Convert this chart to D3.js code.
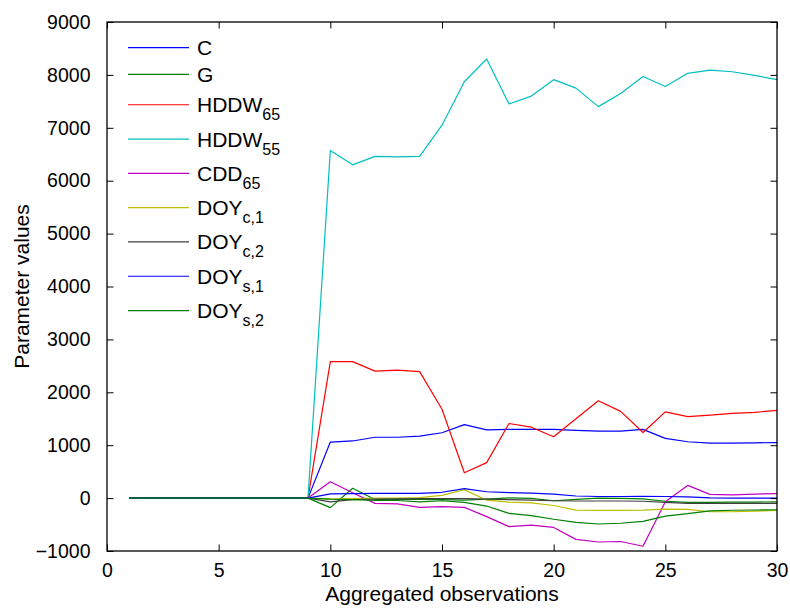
<!DOCTYPE html>
<html>
<head>
<meta charset="utf-8">
<script src="https://cdn.jsdelivr.net/npm/d3@7"></script>
<style>
  html, body { margin: 0; padding: 0; background: #fff; }
  svg { display: block; font-family: "Liberation Sans", Arial, Helvetica, sans-serif; }
</style>
</head>
<body>
<script>
// ---------------- DATA ----------------
const observations = d3.range(1, 31);
const xTicks = [0, 5, 10, 15, 20, 25, 30];
const yTicks = [-1000, 0, 1000, 2000, 3000, 4000, 5000, 6000, 7000, 8000, 9000];

const seriesNames = ["C", "G", "HDDW", "HDDW", "CDD", "DOY", "DOY", "DOY", "DOY"];
const seriesSubs  = ["", "", "65", "55", "65", "c,1", "c,2", "s,1", "s,2"];
const seriesColors = ["#0000ff", "#008000", "#ff0000", "#00bfbf", "#bf00bf", "#bfbf00", "#404040", "#0000ff", "#008000"];

const C      = [0,0,0,0,0,0,0,0,0, 1060,1080,1150,1150,1170,1235,1390,1290,1300,1300,1300,1280,1265,1265,1300,1130,1065,1040,1040,1045,1050];
const G      = [0,0,0,0,0,0,0,0,0, -180,185,-25,-20,-25,-30,-38,-20,5,-5,-50,-25,0,-5,-13,-60,-80,-80,-75,-75,-70];
const HDDW65 = [0,0,0,0,0,0,0,0,0, 2580,2580,2400,2420,2390,1680,480,670,1410,1340,1160,1500,1840,1640,1240,1630,1540,1570,1600,1620,1660];
const HDDW55 = [0,0,0,0,0,0,0,0,0, 6570,6300,6460,6450,6460,7050,7870,8300,7450,7600,7910,7750,7400,7650,7970,7780,8030,8090,8060,7990,7910];
const CDD65  = [0,0,0,0,0,0,0,0,0, 310,100,-100,-110,-175,-160,-175,-350,-540,-510,-555,-780,-830,-820,-910,-70,240,70,60,75,85];
const DOYc1  = [0,0,0,0,0,0,0,0,0, -20,-10,0,0,10,50,160,-40,-75,-90,-140,-227,-233,-233,-227,-208,-214,-258,-258,-246,-233];
const DOYc2  = [0,0,0,0,0,0,0,0,0, -70,-30,-20,-15,-10,-10,-10,-20,-30,-40,-50,-55,-55,-55,-60,-80,-100,-100,-100,-100,-100];
const DOYs1  = [0,0,0,0,0,0,0,0,0, 80,85,90,90,90,110,180,120,105,95,75,40,30,30,35,30,25,5,0,0,0];
const DOYs2  = [0,0,0,0,0,0,0,0,0, -20,-30,-45,-45,-70,-50,-80,-150,-290,-330,-400,-460,-490,-475,-440,-340,-295,-240,-230,-225,-220];

const seriesValues = [C, G, HDDW65, HDDW55, CDD65, DOYc1, DOYc2, DOYs1, DOYs2];

// ---------------- LAYOUT ----------------
const W = 790, H = 608;
const margin = { left: 107, top: 22, right: 13, bottom: 57 };
const pw = W - margin.left - margin.right;
const ph = H - margin.top - margin.bottom;

const svg = d3.select("body").append("svg").attr("width", W).attr("height", H);
const g = svg.append("g").attr("transform", `translate(${margin.left},${margin.top})`);

const x = d3.scaleLinear().domain([0, 30]).range([0, pw]);
const y = d3.scaleLinear().domain([-1000, 9000]).range([ph, 0]);

// lines
const line = d3.line().x((d, i) => x(observations[i])).y(d => y(d));
seriesValues.forEach((vals, k) => {
  g.append("path")
    .datum(vals)
    .attr("fill", "none")
    .attr("stroke", seriesColors[k])
    .attr("stroke-width", 1.2)
    .attr("stroke-linejoin", "round")
    .attr("d", line);
});

// axes (ticks inward, on all sides)
const tl = 6.5;
const fs = 19.5;
const fsTitle = 21;
const xAxisB = d3.axisBottom(x).tickValues(xTicks).tickSizeInner(-tl).tickSizeOuter(0).tickPadding(tl + 6);
const xAxisT = d3.axisTop(x).tickValues(xTicks).tickSizeInner(-tl).tickSizeOuter(0).tickFormat("");
const yAxisL = d3.axisLeft(y).tickValues(yTicks).tickSizeInner(-tl).tickSizeOuter(0).tickPadding(tl + 10).tickFormat(d3.format("d"));
const yAxisR = d3.axisRight(y).tickValues(yTicks).tickSizeInner(-tl).tickSizeOuter(0).tickFormat("");

function styleAxis(sel) {
  sel.select(".domain").remove();
  sel.selectAll(".tick line").attr("stroke", "#000").attr("stroke-width", 1);
  sel.selectAll("text").attr("fill", "#000").style("font-size", fs + "px");
}
g.append("g").attr("transform", `translate(0,${ph})`).call(xAxisB).call(styleAxis);
g.append("g").call(xAxisT).call(styleAxis);
g.append("g").call(yAxisL).call(styleAxis);
g.append("g").attr("transform", `translate(${pw},0)`).call(yAxisR).call(styleAxis);

// minus sign formatting
g.selectAll("text").each(function() {
  const t = d3.select(this);
  t.text(t.text().replace("-", "\u2212"));
});

// box
g.append("rect").attr("x", 0).attr("y", 0).attr("width", pw).attr("height", ph)
  .attr("fill", "none").attr("stroke", "#000").attr("stroke-width", 1.3);

// axis titles
svg.append("text")
  .attr("x", margin.left + pw / 2).attr("y", 601)
  .attr("text-anchor", "middle").style("font-size", fsTitle + "px").text("Aggregated observations");
svg.append("text")
  .attr("transform", `translate(29,${margin.top + ph / 2}) rotate(-90)`)
  .attr("text-anchor", "middle").style("font-size", fsTitle + "px").text("Parameter values");

// legend
const lg = svg.append("g");
const hPlain = 26.6, hSub = 34.3;
let cy = 47.7, prevH = null;
seriesNames.forEach((name, k) => {
  const h = seriesSubs[k] ? hSub : hPlain;
  if (prevH !== null) cy += (prevH + h) / 2;
  prevH = h;
  lg.append("line").attr("x1", 128).attr("x2", 189).attr("y1", cy).attr("y2", cy)
    .attr("stroke", seriesColors[k]).attr("stroke-width", 1.2);
  const t = lg.append("text").attr("x", 197).attr("y", cy + 7.5).style("font-size", "21px");
  t.append("tspan").text(name);
  if (seriesSubs[k]) {
    t.append("tspan").attr("dy", 8).style("font-size", "16px").text(seriesSubs[k]);
  }
});
</script>
</body>
</html>
